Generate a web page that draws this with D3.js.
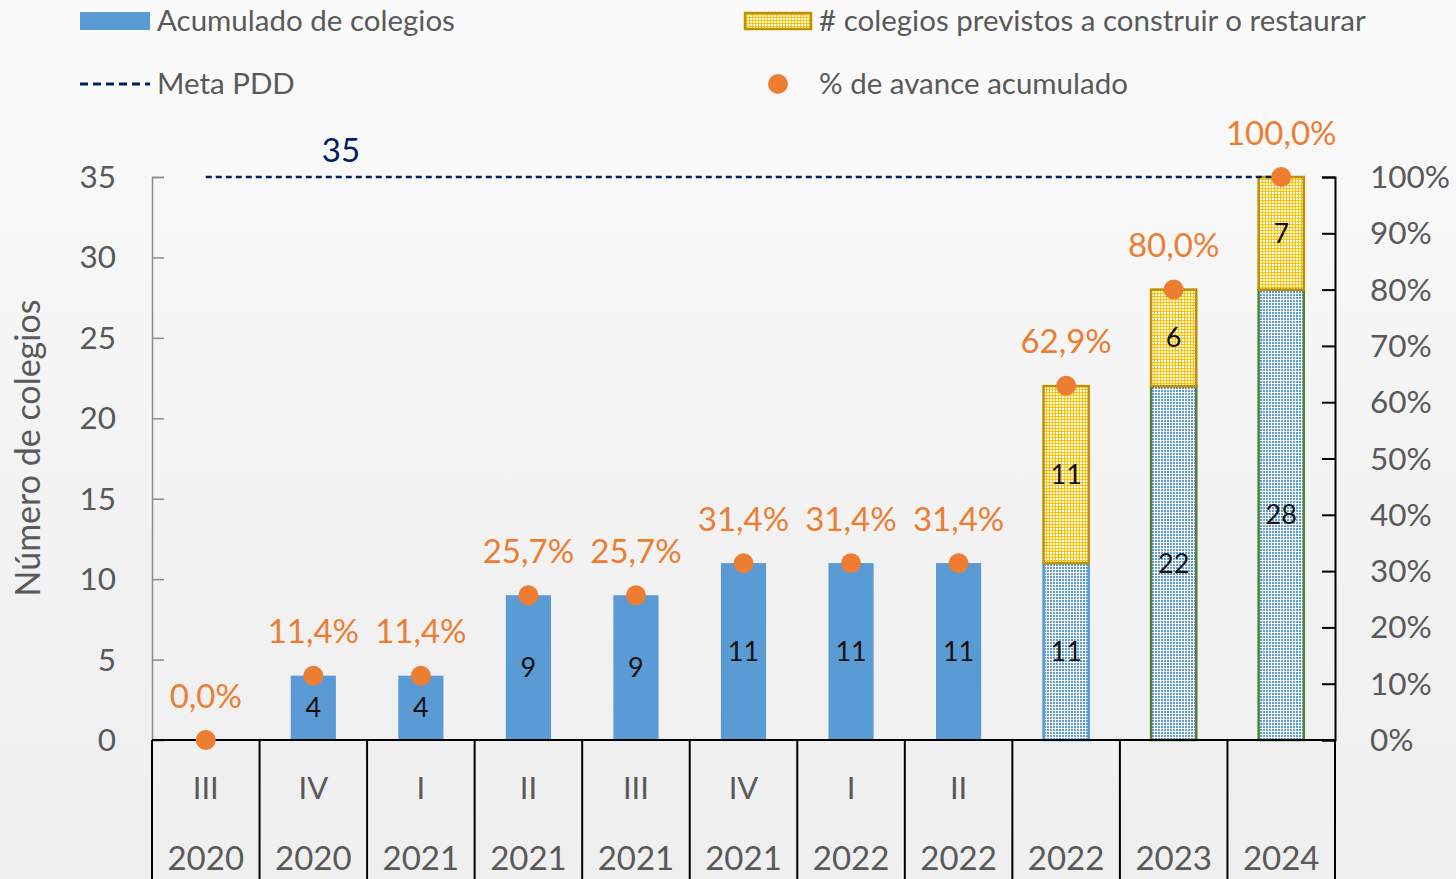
<!DOCTYPE html>
<html>
<head>
<meta charset="utf-8">
<script src="https://cdn.jsdelivr.net/npm/d3@7"></script>
<style>
  html, body { margin: 0; padding: 0; background: #f4f4f4; }
  svg { display: block; font-family: Lato, "Open Sans", sans-serif; }
</style>
</head>
<body>
<div id="container"></div>
<script>
// data
var quarters = ["III", "IV", "I", "II", "III", "IV", "I", "II", "", "", ""];
var years = ["2020", "2020", "2021", "2021", "2021", "2021", "2022", "2022", "2022", "2023", "2024"];
var acumulado = [0, 4, 4, 9, 9, 11, 11, 11, null, null, null];
var acumuladoPrev = [null, null, null, null, null, null, null, null, 11, 22, 28];
var previstos = [null, null, null, null, null, null, null, null, 11, 6, 7];
var avance = [0, 11.4, 11.4, 25.7, 25.7, 31.4, 31.4, 31.4, 62.9, 80.0, 100.0];
var meta = 35;
var leftTicks = [0, 5, 10, 15, 20, 25, 30, 35];
var rightTicks = [0, 10, 20, 30, 40, 50, 60, 70, 80, 90, 100];

var W = 1456, H = 879;
var blue = "#5b9bd5", orange = "#ed7d31", navy = "#002060", gold = "#bf9000",
    yellow = "#ffc000", green = "#548235", grey = "#595959";

var svg = d3.select("#container").append("svg")
    .attr("width", W)
    .attr("height", H);

var defs = svg.append("defs");
var grad = defs.append("linearGradient").attr("id", "bg")
    .attr("x1", 0).attr("y1", 0).attr("x2", 0).attr("y2", 1);
grad.append("stop").attr("offset", "0%").attr("stop-color", "#fbfbfb");
grad.append("stop").attr("offset", "60%").attr("stop-color", "#f2f2f2");
grad.append("stop").attr("offset", "100%").attr("stop-color", "#efefef");

var pBlue = defs.append("pattern").attr("id", "dotBlue")
    .attr("patternUnits", "userSpaceOnUse").attr("width", 3).attr("height", 3);
pBlue.append("rect").attr("width", 3).attr("height", 3).attr("fill", "#fff");
pBlue.append("rect").attr("width", 2).attr("height", 2).attr("fill", blue);

var pYel = defs.append("pattern").attr("id", "dotYellow")
    .attr("patternUnits", "userSpaceOnUse").attr("width", 3).attr("height", 3);
pYel.append("rect").attr("width", 3).attr("height", 3).attr("fill", yellow);
pYel.append("rect").attr("width", 2).attr("height", 2).attr("fill", "#fff");

svg.append("rect").attr("width", W).attr("height", H).attr("fill", "url(#bg)");

var x = d3.scaleBand().domain(d3.range(years.length)).range([152, 1335]).padding(0);
var y = d3.scaleLinear().domain([0, 35]).range([740, 177]);
var y2 = d3.scaleLinear().domain([0, 100]).range([740, 177]);
var bw = x.bandwidth() * 0.42;
function cx(i) { return x(i) + x.bandwidth() / 2; }

// left axis
var leftAxis = svg.append("g")
    .attr("transform", "translate(152,0)")
    .call(d3.axisRight(y).tickValues(leftTicks).tickSize(12).tickFormat(""));
leftAxis.select(".domain").attr("stroke", "#8c8c8c").attr("stroke-width", 1.5);
leftAxis.selectAll(".tick line").attr("stroke", "#8c8c8c").attr("stroke-width", 1.5);
svg.append("g").selectAll("text")
    .data(leftTicks)
  .enter().append("text")
    .attr("x", 116)
    .attr("y", function(d) { return y(d); })
    .attr("dy", "0.35em")
    .attr("text-anchor", "end")
    .attr("fill", grey)
    .style("font-size", "31.5px")
    .text(function(d) { return d; });

// right axis
var rightAxis = svg.append("g")
    .attr("transform", "translate(1335,0)")
    .call(d3.axisLeft(y2).tickValues(rightTicks).tickSize(13).tickFormat(""));
rightAxis.select(".domain").attr("stroke", "#000").attr("stroke-width", 2);
rightAxis.selectAll(".tick line").attr("stroke", "#000").attr("stroke-width", 2);
svg.append("g").selectAll("text")
    .data(rightTicks)
  .enter().append("text")
    .attr("x", 1370)
    .attr("y", function(d) { return y2(d); })
    .attr("dy", "0.35em")
    .attr("fill", grey)
    .style("font-size", "31.5px")
    .text(function(d) { return d + "%"; });

// y title
svg.append("text")
    .attr("transform", "translate(28,448) rotate(-90)")
    .attr("dy", "0.35em")
    .attr("text-anchor", "middle")
    .attr("fill", grey)
    .style("font-size", "34px")
    .text("Número de colegios");

// solid bars
var solid = svg.append("g");
acumulado.forEach(function(d, i) {
  if (!d) return;
  solid.append("rect")
      .attr("x", cx(i) - bw / 2)
      .attr("y", y(d))
      .attr("width", bw)
      .attr("height", y(0) - y(d))
      .attr("fill", blue);
  solid.append("text")
      .attr("x", cx(i)).attr("y", y(d / 2)).attr("dy", "0.35em")
      .attr("text-anchor", "middle").style("font-size", "27px").attr("fill", "#111")
      .text(d);
});

// planned bars
var plan = svg.append("g");
acumuladoPrev.forEach(function(d, i) {
  if (d == null) return;
  plan.append("rect")
      .attr("x", cx(i) - bw / 2)
      .attr("y", y(d))
      .attr("width", bw)
      .attr("height", y(0) - y(d))
      .attr("fill", "url(#dotBlue)")
      .attr("stroke", i === 8 ? blue : green)
      .attr("stroke-width", 2.5);
  plan.append("rect")
      .attr("x", cx(i) - bw / 2)
      .attr("y", y(d + previstos[i]))
      .attr("width", bw)
      .attr("height", y(d) - y(d + previstos[i]))
      .attr("fill", "url(#dotYellow)")
      .attr("stroke", gold)
      .attr("stroke-width", 2.5);
  plan.append("text")
      .attr("x", cx(i)).attr("y", y(d / 2)).attr("dy", "0.35em")
      .attr("text-anchor", "middle").style("font-size", "27px").attr("fill", "#111")
      .text(d);
  plan.append("text")
      .attr("x", cx(i)).attr("y", y(d + previstos[i] / 2)).attr("dy", "0.35em")
      .attr("text-anchor", "middle").style("font-size", "27px").attr("fill", "#111")
      .text(previstos[i]);
});

// category axis
var cat = svg.append("g");
cat.append("line").attr("x1", 152).attr("x2", 1335).attr("y1", 740).attr("y2", 740)
    .attr("stroke", "#000").attr("stroke-width", 2);
d3.range(years.length + 1).forEach(function(i) {
  var xx = i < years.length ? x(i) : 1335;
  cat.append("line").attr("x1", xx).attr("x2", xx).attr("y1", 740).attr("y2", H)
      .attr("stroke", "#000").attr("stroke-width", 2);
});
cat.selectAll("text.q")
    .data(quarters)
  .enter().append("text")
    .attr("class", "q")
    .attr("x", function(d, i) { return cx(i); })
    .attr("y", 788).attr("dy", "0.35em")
    .attr("text-anchor", "middle").attr("fill", grey)
    .style("font-size", "31px")
    .text(function(d) { return d; });
cat.selectAll("text.yr")
    .data(years)
  .enter().append("text")
    .attr("class", "yr")
    .attr("x", function(d, i) { return cx(i); })
    .attr("y", 858).attr("dy", "0.35em")
    .attr("text-anchor", "middle").attr("fill", grey)
    .style("font-size", "33px")
    .text(function(d) { return d; });

// meta line
svg.append("line")
    .attr("x1", cx(0)).attr("x2", cx(years.length - 1))
    .attr("y1", y(meta)).attr("y2", y(meta))
    .attr("stroke", navy).attr("stroke-width", 2.5)
    .attr("stroke-dasharray", "6,4");
svg.append("text")
    .attr("x", 341).attr("y", 150).attr("dy", "0.35em")
    .attr("text-anchor", "middle").attr("fill", navy)
    .style("font-size", "33px")
    .text(meta);

// avance points
var fmt = function(v) { return v.toFixed(1).replace(".", ",") + "%"; };
svg.append("g").selectAll("circle")
    .data(avance)
  .enter().append("circle")
    .attr("cx", function(d, i) { return cx(i); })
    .attr("cy", function(d) { return y2(d); })
    .attr("r", 10)
    .attr("fill", orange);
svg.append("g").selectAll("text")
    .data(avance)
  .enter().append("text")
    .attr("x", function(d, i) { return cx(i); })
    .attr("y", function(d) { return y2(d) - 44; })
    .attr("dy", "0.35em")
    .attr("text-anchor", "middle").attr("fill", orange)
    .style("font-size", "33px")
    .text(fmt);

// legend
var leg = svg.append("g").style("font-size", "29.5px").attr("fill", grey);
leg.append("rect").attr("x", 80).attr("y", 12).attr("width", 70).attr("height", 18).attr("fill", blue);
leg.append("text").attr("x", 157).attr("y", 21).attr("dy", "0.35em").text("Acumulado de colegios");
leg.append("rect").attr("x", 745).attr("y", 13).attr("width", 66).attr("height", 16)
    .attr("fill", "url(#dotYellow)").attr("stroke", gold).attr("stroke-width", 2.5);
leg.append("text").attr("x", 819).attr("y", 21).attr("dy", "0.35em").text("# colegios previstos a construir o restaurar");
leg.append("line").attr("x1", 80).attr("x2", 150).attr("y1", 84).attr("y2", 84)
    .attr("stroke", navy).attr("stroke-width", 3).attr("stroke-dasharray", "8,5");
leg.append("text").attr("x", 157).attr("y", 84).attr("dy", "0.35em").text("Meta PDD");
leg.append("circle").attr("cx", 778).attr("cy", 84).attr("r", 10).attr("fill", orange);
leg.append("text").attr("x", 819).attr("y", 84).attr("dy", "0.35em").text("% de avance acumulado");
</script>
</body>
</html>
